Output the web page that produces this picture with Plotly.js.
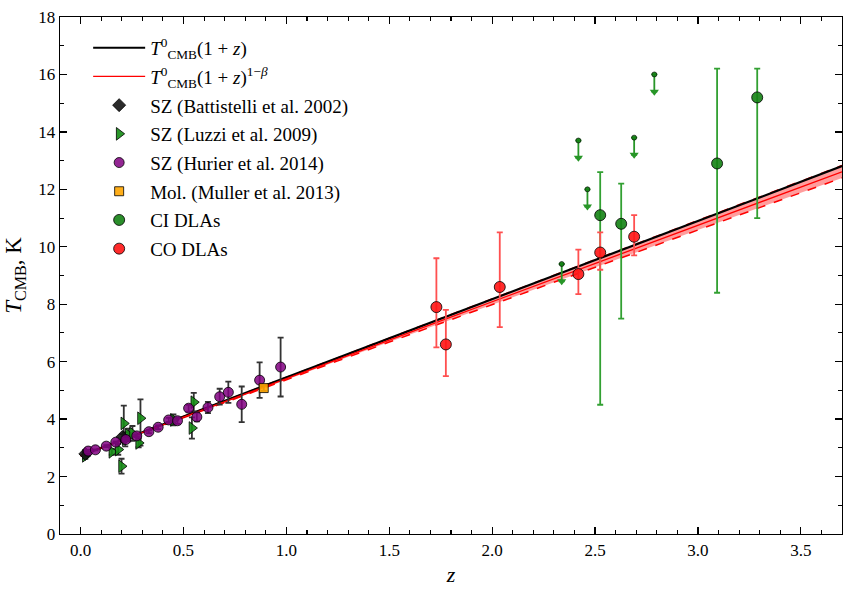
<!DOCTYPE html>
<html>
<head>
<meta charset="utf-8">
<script src="https://cdn.plot.ly/plotly-3.0.1.min.js"></script>
<style>html,body{margin:0;padding:0;background:#fff;}#plot{width:853px;height:594px;}</style>
</head>
<body>
<div id="plot"></div>
<script>
// ---- model parameters ----
const T0 = 2.725;
const beta = 0.010;
const betaErr = 0.011;
const zModel = [0, 0.25, 0.5, 0.75, 1.0, 1.25, 1.5, 1.75, 2.0, 2.25, 2.5, 2.75, 3.0, 3.25, 3.5, 3.7];

// ---- SZ (Battistelli et al. 2002) ----
const battZ = [0.0231, 0.203];
const battT = [2.789, 3.377];
const battErrP = [0.080, 0.101];
const battErrM = [0.065, 0.102];

// ---- SZ (Luzzi et al. 2009) ----
const luzZ = [0.023, 0.152, 0.183, 0.199, 0.210, 0.217, 0.232, 0.252, 0.282, 0.291, 0.451, 0.541, 0.550];
const luzT = [2.72, 2.86, 2.94, 2.36, 3.85, 3.30, 3.45, 3.50, 3.17, 4.03, 3.97, 3.69, 4.59];
const luzErrP = [0.10, 0.10, 0.20, 0.26, 0.62, 0.25, 0.22, 0.26, 0.15, 0.66, 0.19, 0.37, 0.32];
const luzErrM = [0.10, 0.10, 0.18, 0.26, 0.66, 0.25, 0.22, 0.26, 0.15, 0.95, 0.19, 0.37, 0.32];

// ---- SZ (Hurier et al. 2014) ----
const hurZ = [0.037, 0.072, 0.125, 0.171, 0.220, 0.273, 0.332, 0.377, 0.428, 0.471, 0.525, 0.565, 0.619, 0.676, 0.718, 0.783, 0.870, 0.972];
const hurT = [2.888, 2.931, 3.059, 3.197, 3.288, 3.416, 3.562, 3.717, 3.971, 3.943, 4.380, 4.075, 4.404, 4.779, 4.933, 4.515, 5.356, 5.813];
const hurErr = [0.039, 0.017, 0.032, 0.030, 0.032, 0.038, 0.050, 0.063, 0.071, 0.112, 0.119, 0.156, 0.194, 0.278, 0.371, 0.621, 0.617, 1.025];

// ---- Mol. (Muller et al. 2013) ----
const molZ = [0.89];
const molT = [5.08];
const molErr = [0.10];

// ---- CI DLAs ----
const ciZ = [2.525, 2.627, 3.093, 3.288];
const ciT = [11.1, 10.8, 12.9, 15.2];
const ciErrP = [1.5, 1.4, 3.3, 1.0];
const ciErrM = [6.6, 3.3, 4.5, 4.2];
// CI upper limits
const ulZ = [2.338, 2.419, 2.463, 2.690, 2.788];
const ulT = [9.4, 13.7, 12.0, 13.8, 16.0];
const arrowLen = 0.6;

// ---- CO DLAs ----
const coZ = [1.729, 1.775, 2.037, 2.419, 2.525, 2.690];
const coT = [7.9, 6.6, 8.6, 9.05, 9.8, 10.35];
const coErrP = [1.7, 1.2, 1.9, 0.85, 0.7, 0.75];
const coErrM = [1.4, 1.1, 1.4, 0.70, 0.6, 0.65];

// ---- derived model curves ----
const tStd = zModel.map(z => T0 * (1 + z));
const tBeta = zModel.map(z => T0 * Math.pow(1 + z, 1 - beta));
const tHi = zModel.map(z => T0 * Math.pow(1 + z, 1 - (beta - betaErr)));
const tLo = zModel.map(z => T0 * Math.pow(1 + z, 1 - (beta + betaErr)));

const FONT = '"Liberation Serif", "DejaVu Serif", serif';
const sz = '#333333';

function errY(p, m, color) {
  return {type: 'data', symmetric: false, array: p, arrayminus: m, color: color, thickness: 1.8, width: 3};
}

const traces = [
  {x: zModel, y: tLo, mode: 'lines', line: {color: 'rgba(255,0,0,1)', width: 1.5, dash: 'dash'}, showlegend: false, hoverinfo: 'skip'},
  {x: zModel, y: tHi, mode: 'lines', line: {color: 'rgba(255,0,0,1)', width: 1.5, dash: 'dash'}, fill: 'tonexty', fillcolor: 'rgba(255,60,60,0.5)', showlegend: false, hoverinfo: 'skip'},
  {x: zModel, y: tStd, mode: 'lines', name: '<i>T</i><sup>0</sup><sub>CMB</sub>(1 + <i>z</i>)', line: {color: '#000', width: 2.2}, legendgroup: 'a', legendrank: 1},
  {x: zModel, y: tBeta, mode: 'lines', name: '<i>T</i><sup>0</sup><sub>CMB</sub>(1 + <i>z</i>)<sup>1−<i>β</i></sup>', line: {color: '#ff0000', width: 1.3}, legendgroup: 'b', legendrank: 2},
  {x: luzZ, y: luzT, mode: 'markers', name: 'SZ (Luzzi et al. 2009)', marker: {symbol: 'triangle-right', size: 11, color: 'rgba(20,140,20,0.9)', line: {color: '#000', width: 0.8}}, error_y: errY(luzErrP, luzErrM, sz), legendgroup: 'd', legendrank: 4},
  {x: battZ, y: battT, mode: 'markers', name: 'SZ (Battistelli et al. 2002)', marker: {symbol: 'diamond', size: 10, color: 'rgba(20,20,20,0.9)', line: {color: '#000', width: 0.8}}, error_y: errY(battErrP, battErrM, sz), legendgroup: 'c', legendrank: 3},
  {x: hurZ, y: hurT, mode: 'markers', name: 'SZ (Hurier et al. 2014)', marker: {symbol: 'circle', size: 10, color: 'rgba(128,0,128,0.85)', line: {color: '#000', width: 0.8}}, error_y: errY(hurErr, hurErr, sz), legendgroup: 'e', legendrank: 5},
  {x: molZ, y: molT, mode: 'markers', name: 'Mol. (Muller et al. 2013)', marker: {symbol: 'square', size: 9, color: 'rgba(255,165,0,0.9)', line: {color: '#000', width: 0.8}}, error_y: errY(molErr, molErr, sz), legendgroup: 'f', legendrank: 6},
  {x: ulZ, y: ulT.map(t => t - arrowLen), mode: 'markers', marker: {symbol: 'triangle-down', size: 8, color: 'rgb(40,150,40)'}, showlegend: false, hoverinfo: 'skip'},
  {x: ulZ, y: ulT, mode: 'markers', marker: {symbol: 'circle', size: 5, color: 'rgba(20,130,20,0.95)', line: {color: '#000', width: 0.6}}, error_y: {type: 'data', symmetric: false, array: ulZ.map(() => 0), arrayminus: ulZ.map(() => arrowLen), color: 'rgb(40,150,40)', thickness: 1.8, width: 3}, showlegend: false},
  {x: ciZ, y: ciT, mode: 'markers', name: 'CI DLAs', marker: {symbol: 'circle', size: 11, color: 'rgba(20,130,20,0.9)', line: {color: '#000', width: 0.8}}, error_y: errY(ciErrP, ciErrM, 'rgb(50,160,50)'), legendgroup: 'g', legendrank: 7},
  {x: coZ, y: coT, mode: 'markers', name: 'CO DLAs', marker: {symbol: 'circle', size: 11, color: 'rgba(255,20,20,0.9)', line: {color: '#000', width: 0.8}}, error_y: errY(coErrP, coErrM, 'rgb(255,80,80)'), legendgroup: 'h', legendrank: 8}
];

const axisCommon = {
  showgrid: false, zeroline: false, showline: true, linecolor: '#000', linewidth: 1.3,
  mirror: 'allticks', ticks: 'inside', ticklen: 7, tickwidth: 1.3, tickcolor: '#000',
  tickfont: {family: FONT, size: 17, color: '#000'}
};

const layout = {
  width: 853, height: 594,
  margin: {l: 60, r: 11, t: 17, b: 60},
  paper_bgcolor: '#fff', plot_bgcolor: '#fff',
  showlegend: true,
  xaxis: Object.assign({}, axisCommon, {
    range: [-0.1, 3.7], dtick: 0.5, tick0: 0, tickformat: '.1f',
    minor: {dtick: 0.1, ticklen: 4, ticks: 'inside', tickcolor: '#000', tickwidth: 1.1},
    title: {text: '<i>z</i>', font: {family: FONT, size: 22, color: '#000'}, standoff: 8}
  }),
  yaxis: Object.assign({}, axisCommon, {
    range: [0, 18], dtick: 2, tick0: 0,
    minor: {dtick: 1, ticklen: 4, ticks: 'inside', tickcolor: '#000', tickwidth: 1.1},
    title: {text: '<i>T</i><sub>CMB</sub>, K', font: {family: FONT, size: 23, color: '#000'}, standoff: 10}
  }),
  legend: {
    x: 0.036, y: 0.977, xanchor: 'left', yanchor: 'top',
    bgcolor: 'rgba(0,0,0,0)', borderwidth: 0,
    font: {family: FONT, size: 19, color: '#000'},
    traceorder: 'grouped', tracegroupgap: 1, itemwidth: 52
  },
  font: {family: FONT, color: '#000'}
};

Plotly.newPlot('plot', traces, layout, {displayModeBar: false, staticPlot: true});
</script>
</body>
</html>
